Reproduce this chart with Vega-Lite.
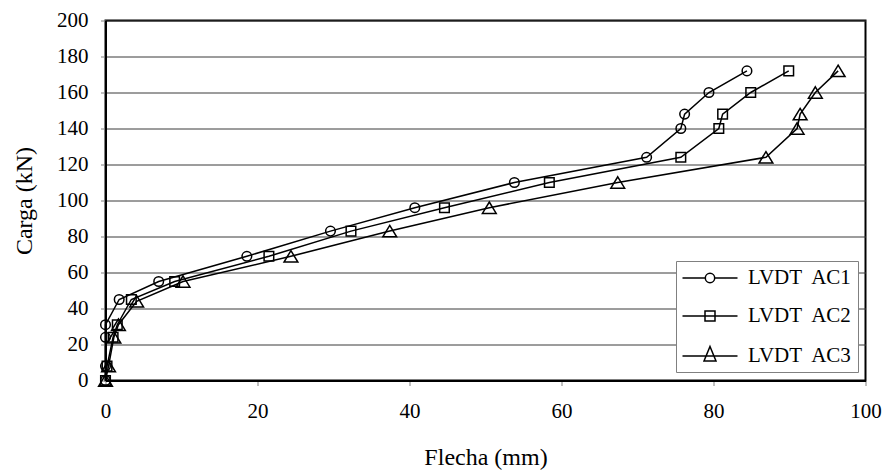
{
  "$schema": "https://vega.github.io/schema/vega-lite/v6.json",
  "width": 760,
  "height": 360,
  "autosize": {"type": "none"},
  "padding": {"left": 105.5, "top": 20.5, "right": 21, "bottom": 89},
  "background": "white",
  "config": {
    "font": "Liberation Serif",
    "view": {"stroke": "black", "strokeWidth": 2},
    "axis": {
      "labelFont": "Liberation Serif",
      "labelFontSize": 21,
      "labelColor": "black",
      "titleFont": "Liberation Serif",
      "titleFontSize": 24,
      "titleFontWeight": "normal",
      "titleColor": "black",
      "domainColor": "black",
      "domainWidth": 2,
      "tickColor": "#808080",
      "tickSize": 5,
      "tickWidth": 1
    },
    "legend": {
      "labelFont": "Liberation Serif",
      "labelFontSize": 21,
      "labelColor": "black"
    }
  },
  "resolve": {"scale": {"shape": "independent"}, "legend": {"shape": "independent"}},
  "data": {
    "values": [
      {"serie": "LVDT AC1", "flecha": 0, "carga": 0},
      {"serie": "LVDT AC1", "flecha": 0, "carga": 8},
      {"serie": "LVDT AC1", "flecha": 0, "carga": 24},
      {"serie": "LVDT AC1", "flecha": 0, "carga": 31},
      {"serie": "LVDT AC1", "flecha": 1.8, "carga": 45},
      {"serie": "LVDT AC1", "flecha": 7.0, "carga": 55},
      {"serie": "LVDT AC1", "flecha": 18.6, "carga": 69},
      {"serie": "LVDT AC1", "flecha": 29.6, "carga": 83},
      {"serie": "LVDT AC1", "flecha": 40.7, "carga": 96},
      {"serie": "LVDT AC1", "flecha": 53.8, "carga": 110},
      {"serie": "LVDT AC1", "flecha": 71.2, "carga": 124},
      {"serie": "LVDT AC1", "flecha": 75.7, "carga": 140},
      {"serie": "LVDT AC1", "flecha": 76.2, "carga": 148},
      {"serie": "LVDT AC1", "flecha": 79.4, "carga": 160},
      {"serie": "LVDT AC1", "flecha": 84.4, "carga": 172},
      {"serie": "LVDT AC2", "flecha": 0, "carga": 0},
      {"serie": "LVDT AC2", "flecha": 0.2, "carga": 8},
      {"serie": "LVDT AC2", "flecha": 1.0, "carga": 24},
      {"serie": "LVDT AC2", "flecha": 1.55, "carga": 31},
      {"serie": "LVDT AC2", "flecha": 3.4, "carga": 45},
      {"serie": "LVDT AC2", "flecha": 9.1, "carga": 55},
      {"serie": "LVDT AC2", "flecha": 21.5, "carga": 69},
      {"serie": "LVDT AC2", "flecha": 32.3, "carga": 83},
      {"serie": "LVDT AC2", "flecha": 44.6, "carga": 96},
      {"serie": "LVDT AC2", "flecha": 58.4, "carga": 110},
      {"serie": "LVDT AC2", "flecha": 75.7, "carga": 124},
      {"serie": "LVDT AC2", "flecha": 80.7, "carga": 140},
      {"serie": "LVDT AC2", "flecha": 81.2, "carga": 148},
      {"serie": "LVDT AC2", "flecha": 84.9, "carga": 160},
      {"serie": "LVDT AC2", "flecha": 89.9, "carga": 172},
      {"serie": "LVDT AC3", "flecha": 0, "carga": 0},
      {"serie": "LVDT AC3", "flecha": 0.4, "carga": 8},
      {"serie": "LVDT AC3", "flecha": 1.1, "carga": 24},
      {"serie": "LVDT AC3", "flecha": 1.7, "carga": 31},
      {"serie": "LVDT AC3", "flecha": 4.1, "carga": 44},
      {"serie": "LVDT AC3", "flecha": 10.2, "carga": 55},
      {"serie": "LVDT AC3", "flecha": 24.4, "carga": 69},
      {"serie": "LVDT AC3", "flecha": 37.4, "carga": 83},
      {"serie": "LVDT AC3", "flecha": 50.5, "carga": 96},
      {"serie": "LVDT AC3", "flecha": 67.4, "carga": 110},
      {"serie": "LVDT AC3", "flecha": 86.9, "carga": 124},
      {"serie": "LVDT AC3", "flecha": 91.0, "carga": 140},
      {"serie": "LVDT AC3", "flecha": 91.4, "carga": 148},
      {"serie": "LVDT AC3", "flecha": 93.4, "carga": 160},
      {"serie": "LVDT AC3", "flecha": 96.4, "carga": 172}
    ]
  },
  "encoding": {
    "x": {
      "field": "flecha",
      "type": "quantitative",
      "scale": {"domain": [0, 100], "nice": false},
      "axis": {
        "title": "Flecha (mm)",
        "values": [0, 20, 40, 60, 80, 100],
        "grid": false,
        "labelFont": "Liberation Serif",
        "titleFont": "Liberation Serif",
        "labelPadding": 15,
        "labelFlush": false,
        "titleY": 83.5,
        "titleBaseline": "alphabetic"
      }
    },
    "y": {
      "field": "carga",
      "type": "quantitative",
      "scale": {"domain": [0, 200], "nice": false},
      "axis": {
        "title": "Carga (kN)",
        "values": [0, 20, 40, 60, 80, 100, 120, 140, 160, 180, 200],
        "grid": true,
        "gridColor": "#3a3a3a",
        "gridWidth": 1,
        "gridOpacity": 1,
        "labelFont": "Liberation Serif",
        "titleFont": "Liberation Serif",
        "labelPadding": 12.5,
        "labelFlush": false,
        "titleX": -74,
        "titleBaseline": "alphabetic"
      }
    }
  },
  "layer": [
    {
      "mark": {"type": "line", "color": "black", "strokeWidth": 1.5},
      "encoding": {
        "detail": {"field": "serie", "type": "nominal"},
        "order": {"field": "carga", "type": "quantitative"}
      }
    },
    {
      "mark": {"type": "point", "filled": false, "color": "black", "stroke": "black", "strokeWidth": 1.5, "size": 144, "opacity": 1},
      "encoding": {
        "shape": {
          "field": "serie",
          "type": "nominal",
          "scale": {
            "domain": ["LVDT AC1", "LVDT AC2", "LVDT AC3"],
            "range": [
              "M-0.8,0A0.8,0.8,0,1,0,0.8,0A0.8,0.8,0,1,0,-0.8,0Z",
              "M-0.8,-0.8H0.8V0.8H-0.8Z",
              "M0,-0.95L1.15,0.95L-1.15,0.95Z"
            ]
          },
          "legend": null
        }
      }
    },
    {
      "transform": [{"filter": "datum.carga < 0"}],
      "mark": {"type": "point", "filled": false, "color": "black", "stroke": "black", "strokeWidth": 1.5, "opacity": 1},
      "encoding": {
        "shape": {
          "field": "serie",
          "type": "nominal",
          "scale": {
            "domain": ["LVDT AC1", "LVDT AC2", "LVDT AC3"],
            "range": [
              "M-2.75,0H-0.47M0.47,0H2.75M-0.47,0A0.47,0.47,0,1,0,0.47,0A0.47,0.47,0,1,0,-0.47,0Z",
              "M-2.75,0H2.75M-0.5,-0.5H0.5V0.5H-0.5Z",
              "M-2.75,0H2.75M0,-0.95L0.6,0.5L-0.6,0.5Z"
            ]
          },
          "legend": {
            "title": null,
            "orient": "none",
            "legendX": 570.5,
            "legendY": 240.5,
            "fillColor": "white",
            "strokeColor": "#808080",
            "padding": 6,
            "rowPadding": 17,
            "symbolSize": 400,
            "symbolOffset": 17,
            "labelOffset": 27,
            "symbolStrokeWidth": 1.5,
            "symbolStrokeColor": "black",
            "symbolFillColor": "transparent",
            "symbolOpacity": 1,
            "labelFont": "Liberation Serif",
            "labelFontSize": 21,
            "labelColor": "black",
            "labelLimit": 300,
            "labelExpr": "replace(datum.label, ' ', ' \u2009')"
          }
        }
      }
    }
  ]
}
